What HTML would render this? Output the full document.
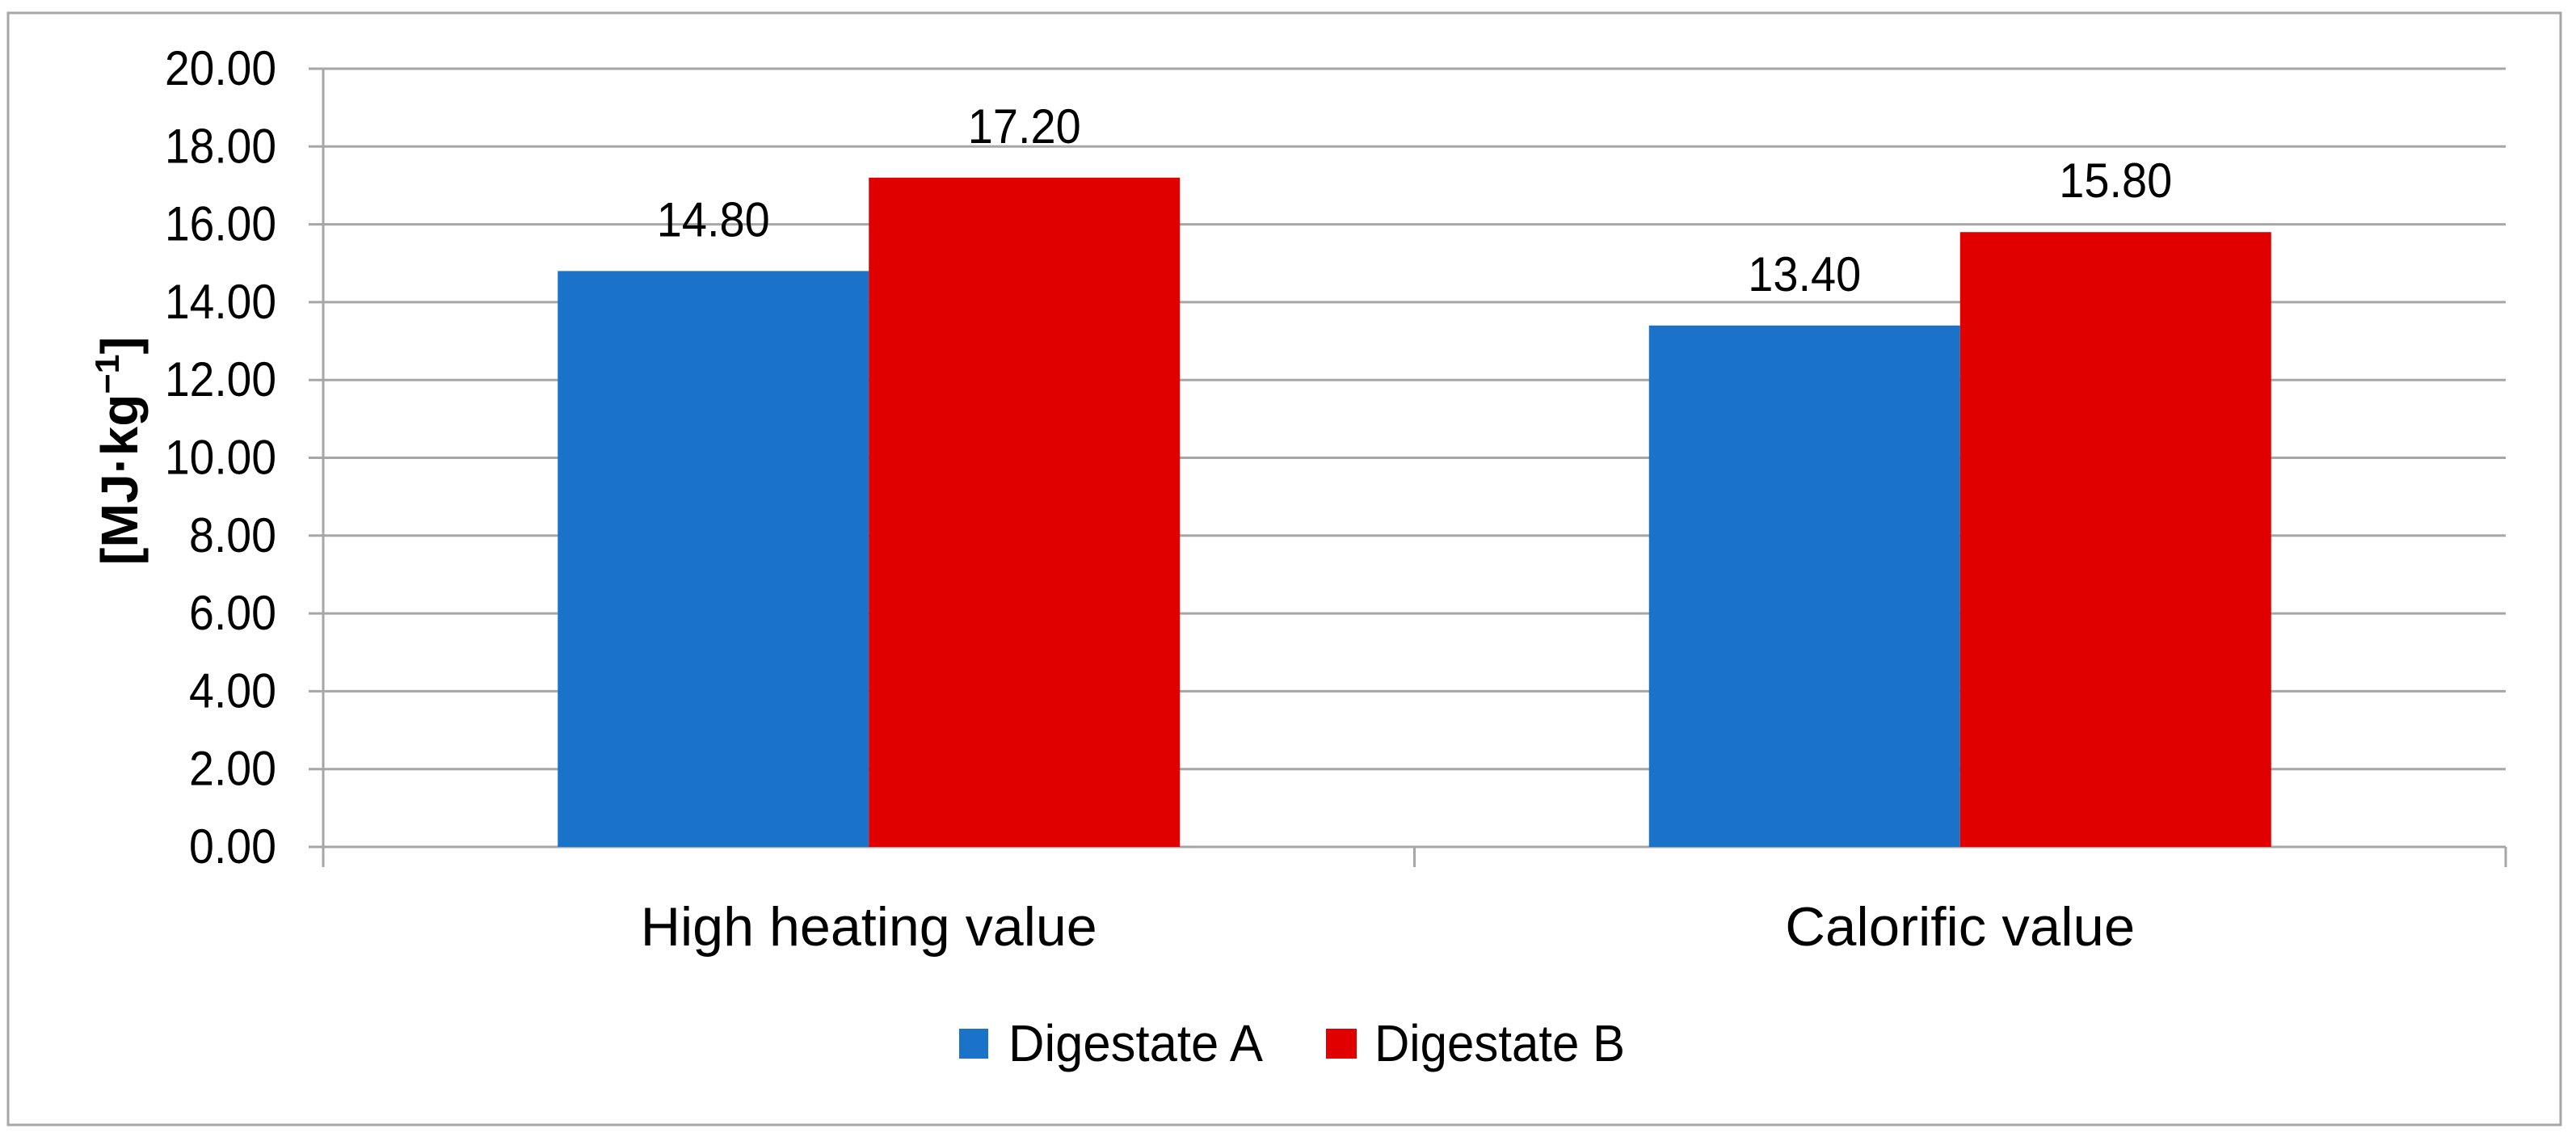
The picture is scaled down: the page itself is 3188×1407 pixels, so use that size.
<!DOCTYPE html>
<html><head><meta charset="utf-8"><style>
html,body{margin:0;padding:0;background:#fff;}
svg{display:block;font-family:"Liberation Sans",sans-serif;}
</style></head><body>
<svg id="chart" width="3188" height="1407" viewBox="0 0 3188 1407">
<rect x="10" y="16" width="3159" height="1376" fill="#fff" stroke="#a6a6a6" stroke-width="3"/>
<g id="grid"></g>
<g id="bars"></g>
<g id="labels"></g>
<text x="0" y="0" transform="translate(170,558) rotate(-90)" text-anchor="middle" font-size="64" font-weight="bold" fill="#000" textLength="283" lengthAdjust="spacingAndGlyphs">[MJ·kg<tspan baseline-shift="super" font-size="42">−1</tspan>]</text>
<rect x="1187" y="1273" width="36" height="37" fill="#1a73c9"/>
<text x="1248" y="1313" font-size="64" textLength="315" lengthAdjust="spacingAndGlyphs">Digestate A</text>
<rect x="1641" y="1273" width="38" height="37" fill="#e00000"/>
<text x="1701" y="1313" font-size="64" textLength="310" lengthAdjust="spacingAndGlyphs">Digestate B</text>
</svg>
<script>
const categories = ["High heating value", "Calorific value"];
const seriesA = [14.80, 13.40];
const seriesB = [17.20, 15.80];
const yTicks = [0, 2, 4, 6, 8, 10, 12, 14, 16, 18, 20];
const NS = "http://www.w3.org/2000/svg";
const X0 = 400, X1 = 3101, Y0 = 1048, Y20 = 85;
function yScale(v){ return Y0 - (v / 20) * (Y0 - Y20); }
const catW = (X1 - X0) / categories.length;
function catX(i){ return X0 + catW * (i + 0.5); }
const barW = 385;
const catLens = [565, 433];
function mk(tag, attrs, parent){ const e = document.createElementNS(NS, tag); for (const k in attrs) e.setAttribute(k, attrs[k]); parent.appendChild(e); return e; }
const grid = document.getElementById('grid'), bars = document.getElementById('bars'), labels = document.getElementById('labels');
yTicks.forEach(t => {
  const y = yScale(t);
  const l = mk('line', {x1: 382, x2: X1, y1: y, y2: y, stroke: '#a6a6a6', 'stroke-width': 3}, grid);
  
  
  const tx = mk('text', {x: 342, y: y + 20, 'text-anchor': 'end', 'font-size': 60, textLength: (t >= 10 ? 138 : 108), lengthAdjust: 'spacingAndGlyphs'}, labels);
  tx.textContent = t.toFixed(2);
  
  
});
const ax = mk('line', {x1: X0, x2: X0, y1: Y20, y2: Y0 + 25, stroke: '#a6a6a6', 'stroke-width': 3}, grid);


for (let i = 0; i <= categories.length; i++) {
  const x = X0 + catW * i;
  const tk = mk('line', {x1: x, x2: x, y1: Y0, y2: Y0 + 25, stroke: '#a6a6a6', 'stroke-width': 3}, grid);
  
  
}
const series = [[seriesA, '#1a73c9', 'digestate-a'], [seriesB, '#e00000', 'digestate-b']];
categories.forEach((c, i) => {
  series.forEach((s, j) => {
    const v = s[0][i];
    const x = catX(i) - barW + j * barW;
    const r = mk('rect', {x: x, y: yScale(v), width: barW, height: Y0 - yScale(v), fill: s[1]}, bars);
    
    
    const t = mk('text', {x: x + barW / 2, y: yScale(v) - 43, 'text-anchor': 'middle', 'font-size': 60, textLength: 140, lengthAdjust: 'spacingAndGlyphs'}, labels);
    t.textContent = v.toFixed(2);
    
    
  });
  const cl = mk('text', {x: catX(i), y: 1170, 'text-anchor': 'middle', 'font-size': 68, textLength: catLens[i], lengthAdjust: 'spacingAndGlyphs'}, labels);
  cl.textContent = c;
  
  
});
</script>
</body></html>
